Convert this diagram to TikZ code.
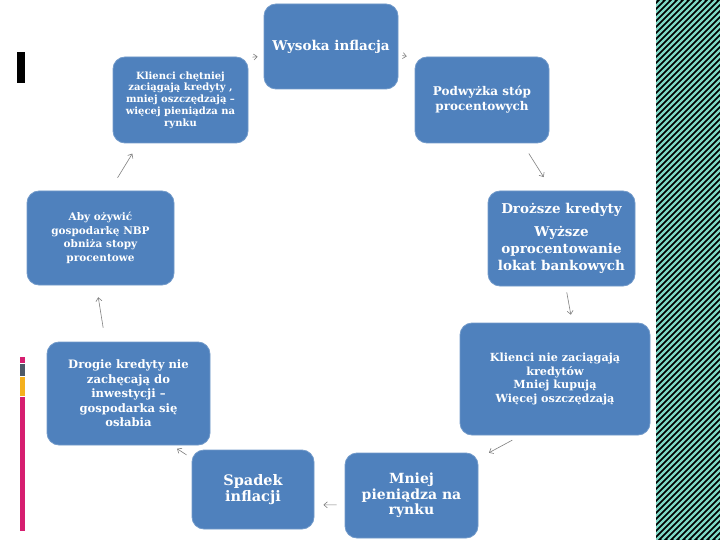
\documentclass[tikz,border=0pt]{standalone}
\usepackage{fontspec}
\setmainfont{DejaVu Serif}
\usepackage{xcolor}
\usepackage{tikz}
\usetikzlibrary{arrows.meta}
\definecolor{boxblue}{RGB}{79,129,189}
\definecolor{stripeteal}{RGB}{124,214,196}
\definecolor{barpink}{RGB}{214,30,112}
\definecolor{bargray}{RGB}{77,89,104}
\definecolor{baryellow}{RGB}{244,176,30}
\newcommand{\boxfont}[2]{\fontsize{#1}{#2}\selectfont\bfseries}

\begin{document}
\begin{tikzpicture}[x=1pt,y=-1pt,
    box/.style={draw=boxblue!80!white, line width=0.8pt, fill=boxblue, rounded corners=12pt,
                text=white, align=center, inner sep=0pt},
    arr/.style={draw=gray, line width=0.6pt, -{Straight Barb[length=3.5pt,width=6pt]}}]
    % Slide Area
    \useasboundingbox (0,0) rectangle (720,540);
    \fill[white] (0,0) rectangle (720,540);
    % Striped Band on the Right
    \begin{scope}
       \clip (656,0) rectangle (720,540);
       \fill[black] (656,0) rectangle (720,540);
       \foreach \s in {110,116,...,722}
          \draw[stripeteal, line width=2.2pt] (\s,540) -- ++(540,-540);
    \end{scope}
    % Bars on the Left
    \fill[black] (17,52) rectangle (25,83);
    \fill[barpink] (20,357) rectangle (25,363);
    \fill[bargray] (20,364) rectangle (25,376);
    \fill[baryellow] (20,377) rectangle (25,396);
    \fill[barpink] (20,396.5) rectangle (25,531);
    % Boxes of the Cycle
       \node[box, minimum width=134pt, minimum height=85pt, font=\boxfont{13.5}{16}] (wysoka) at (331,46.5)
          {Wysoka inflacja};
       \node[box, minimum width=134pt, minimum height=86pt, font=\boxfont{12}{15}] (podwyzka) at (482,100)
          {Podwyżka stóp\\ procentowych};
       \node[box, minimum width=147pt, minimum height=95pt, font=\boxfont{13.5}{17}] (drozsze) at (561.5,238.5)
          {Droższe kredyty\\[6pt] Wyższe\\ oprocentowanie\\ lokat bankowych};
       \node[box, minimum width=190pt, minimum height=112pt, font=\boxfont{11.2}{13.8}] (niezaciagaja) at (555,379)
          {Klienci nie zaciągają\\ kredytów\\ Mniej kupują\\ Więcej oszczędzają};
       \node[box, minimum width=133pt, minimum height=85pt, font=\boxfont{14}{15.5}] (mniejpien) at (411.5,495.5)
          {Mniej\\ pieniądza na\\ rynku};
       \node[box, minimum width=122pt, minimum height=79pt, font=\boxfont{14.5}{15.5}] (spadek) at (253,489.5)
          {Spadek\\ inflacji};
       \node[box, minimum width=163pt, minimum height=103pt, font=\boxfont{11.6}{14.5}] (drogie) at (128.5,393.5)
          {Drogie kredyty nie\\ zachęcają do\\ inwestycji –\\ gospodarka się\\ osłabia};
       \node[box, minimum width=147pt, minimum height=94pt, font=\boxfont{10.5}{13.5}] (ozywic) at (100.5,238)
          {Aby ożywić\\ gospodarkę NBP\\ obniża stopy\\ procentowe};
       \node[box, minimum width=135pt, minimum height=86pt, font=\boxfont{10}{11.8}] (chetniej) at (180.5,100)
          {Klienci chętniej\\ zaciągają kredyty ,\\ mniej oszczędzają –\\ więcej pieniądza na\\ rynku};
       %
       % Arrows Between the Boxes:
       \draw[arr, shorten <=4pt, shorten >=6pt] (chetniej.32) -- (wysoka.188);
       \draw[arr, shorten <=4pt, shorten >=8pt] (wysoka.353) -- (podwyzka.148.5);
       \draw[arr, shorten <=12pt, shorten >=16pt] (podwyzka.313) -- (drozsze.101.6);
       \draw[arr, shorten <=6pt, shorten >=8pt] (drozsze.275) -- (niezaciagaja.73);
       \draw[arr, shorten <=10pt, shorten >=12pt] (niezaciagaja.239) -- (mniejpien.29);
       \draw[arr, shorten <=8pt, shorten >=9pt] (mniejpien.188) -- (spadek.346);
       \draw[arr, shorten <=6pt, shorten >=6pt] (spadek.153) -- (drogie.310);
       \draw[arr, shorten <=14pt, shorten >=12pt] (drogie.114) -- (ozywic.265);
       \draw[arr, shorten <=15pt, shorten >=12pt] (ozywic.79) -- (chetniej.226);
\end{tikzpicture}
\end{document}
